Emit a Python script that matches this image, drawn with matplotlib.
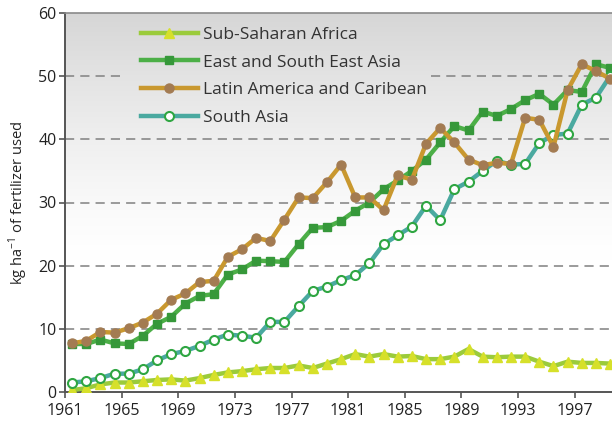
import numpy as np
import matplotlib
matplotlib.use("Agg")
import matplotlib.pyplot as plt

plt.rcParams['font.family'] = ['Open Sans', 'DejaVu Sans']
plt.rcParams['mathtext.fontset'] = 'custom'
plt.rcParams['mathtext.rm'] = 'Open Sans'

years = np.arange(1961, 2000)

ssa = [0.3, 0.6, 1.2, 1.5, 1.5, 1.7, 1.9, 2.0, 1.8, 2.2,
       2.7, 3.1, 3.3, 3.6, 3.8, 3.8, 4.2, 3.8, 4.5, 5.2,
       6.0, 5.6, 6.0, 5.6, 5.7, 5.2, 5.2, 5.6, 6.8, 5.6,
       5.5, 5.6, 5.6, 4.8, 4.1, 4.8, 4.6, 4.6, 4.5]
esea = [7.6, 7.6, 8.3, 7.7, 7.6, 8.9, 10.8, 11.9, 14.0, 15.2,
        15.5, 18.6, 19.4, 20.8, 20.7, 20.6, 23.4, 26.0, 26.1, 27.1,
        28.7, 30.0, 32.1, 33.5, 35.0, 36.8, 39.5, 42.1, 41.4, 44.4,
        43.7, 44.8, 46.2, 47.2, 45.5, 47.8, 47.5, 51.9, 51.3]
lac = [7.7, 8.1, 9.5, 9.4, 10.1, 11.0, 12.4, 14.6, 15.6, 17.4,
       17.6, 21.4, 22.6, 24.4, 23.9, 27.3, 30.8, 30.7, 33.2, 36.0,
       30.8, 30.8, 28.8, 34.3, 33.6, 39.3, 41.8, 39.5, 36.8, 35.9,
       36.3, 36.1, 43.4, 43.1, 38.8, 47.8, 51.9, 50.8, 49.6]
sa = [1.5, 1.7, 2.2, 2.9, 2.9, 3.6, 5.0, 6.0, 6.5, 7.3,
      8.3, 9.1, 8.9, 8.6, 11.1, 11.1, 13.6, 16.0, 16.7, 17.7,
      18.5, 20.4, 23.4, 24.8, 26.2, 29.5, 27.2, 32.1, 33.3, 35.0,
      36.6, 36.0, 36.1, 39.4, 40.7, 40.9, 45.5, 46.6, 50.0]

tick_years = np.arange(1961, 2000, 4)
yticks = [0, 10, 20, 30, 40, 50, 60]

fig = plt.figure(figsize=(6.12, 4.25), dpi=100)
ax = fig.add_axes([65/612, 33/425, 1 - 65/612 + 0.02, (392 - 13)/425])

# grey gradient background
grad = np.linspace(0, 1, 256).reshape(-1, 1)
shade = 1 - 0.16 * np.clip((grad - 0.35) / 0.65, 0, 1) ** 1.3
ax.imshow(np.dstack([shade, shade, shade]), extent=[1961, 2000.5, 0, 60],
          origin='lower', aspect='auto', zorder=0)

for v in [10, 20, 30, 40]:
    ax.axhline(v, color='#808080', lw=1.1, ls=(0, (6, 4)), zorder=1)
ax.axhline(50, xmin=0, xmax=0.105, color='#808080', lw=1.1, ls=(0, (6, 4)), zorder=1)
ax.axhline(50, xmin=0.655, xmax=1, color='#808080', lw=1.1, ls=(0, (6, 4)), zorder=1)

x = years + 0.5
ax.plot(x, ssa, color='#9bcb3b', lw=3.2, marker='^', ms=6.5, mfc='#d6e02a',
        mec='#d6e02a', label='Sub-Saharan Africa', zorder=3)
ax.plot(x, esea, color='#4caf47', lw=3.2, marker='s', ms=5.5, mfc='#36983a',
        mec='#36983a', label='East and South East Asia', zorder=4)
ax.plot(x, lac, color='#c9982f', lw=3.2, marker='o', ms=6.5, mfc='#a37b52',
        mec='#a37b52', label='Latin America and Caribean', zorder=5)
ax.plot(x, sa, color='#4aa9a0', lw=3.2, marker='o', ms=6.5, mfc='white',
        mec='#2fa642', mew=1.5, label='South Asia', zorder=4)

ax.set_xlim(1961, 2000.5)
ax.set_ylim(0, 60)
ax.set_xticks(tick_years)
ax.set_xticklabels([str(t) for t in tick_years])
ax.set_yticks(yticks)
ax.tick_params(axis='both', labelsize=11.5, color='#555555', length=4,
               width=1.2, labelcolor='#222222', pad=2)
ax.tick_params(axis='x', pad=4)

for s in ['left', 'bottom']:
    ax.spines[s].set_color('#555555')
    ax.spines[s].set_linewidth(1.4)
ax.spines['top'].set_color('#8a8a8a')
ax.spines['top'].set_linewidth(1.2)
ax.spines['right'].set_visible(False)

ax.set_ylabel(r'kg ha$^{-1}$ of fertilizer used', fontsize=10.5, color='#222222', labelpad=6)

leg = ax.legend(loc='upper left', bbox_to_anchor=(0.123, 0.982), frameon=False,
                fontsize=12.5, handlelength=3.3, handletextpad=0.3,
                labelspacing=0.66, borderaxespad=0)
for t in leg.get_texts():
    t.set_color('#333333')

fig.savefig('out.png', dpi=100)
